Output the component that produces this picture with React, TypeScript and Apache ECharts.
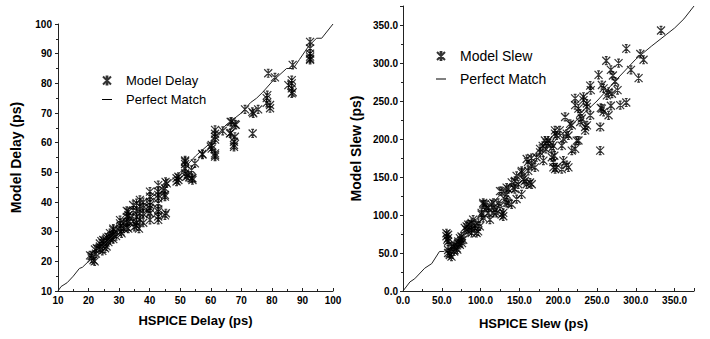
import React, { useEffect, useRef } from "react";
import * as echarts from "echarts";

// ---- Left chart: Model Delay vs HSPICE Delay (ps) ----
const delayModel: [number, number][] = [
  [20.5, 22], [21, 21.8], [21, 21], [21.6, 20.4], [22.1, 24], [22.7, 24.4], [22, 20], [22.4, 22.6],
  [23.7, 26], [23.7, 25], [23.7, 24], [24.8, 27.2], [25.4, 24.4], [25, 26], [24.5, 23.5], [24.2, 26.8],
  [25.9, 28], [26.5, 28.3], [25.9, 27], [25.9, 25], [26.5, 26.5], [27, 29.5], [27, 27.5],
  [27.9, 29], [28.1, 30.6], [28.1, 31], [28.1, 29], [28.1, 27.5], [27.5, 28], [29, 30], [29, 28.5],
  [30.3, 32.8], [30.3, 33.9], [30.5, 32], [30.5, 30], [30.8, 29.4], [30.5, 31], [31.5, 31], [31.5, 33],
  [32.5, 37], [33, 36.7], [33, 35.6], [32.5, 35], [33, 33.4], [32.5, 33], [33, 31], [32.5, 31.5], [33.5, 34.5],
  [34.6, 39], [34.6, 37.2], [35.7, 35], [35.7, 33], [35, 31.6], [35.7, 32], [35.7, 39.6], [35.7, 37], [34.6, 33.5],
  [36.8, 40.7], [36.8, 38.5], [36.8, 36.2], [36.8, 34], [36.5, 31], [37.9, 40], [37.9, 38], [37.9, 36], [37.9, 33],
  [40.1, 43.5], [40.1, 41.8], [40.1, 39], [40.1, 36.2], [40.1, 34], [40.1, 40], [40.1, 38], [39.5, 37],
  [42.8, 45.7], [42.8, 43.5], [42.8, 41.2], [42.8, 39.6], [42.8, 36.8], [42.8, 35.1], [42.8, 34], [42.8, 37.5], [42.8, 42.4],
  [45.3, 36.2], [45, 35.5], [45, 42.4], [45, 44.6], [45.6, 46.3], [45.2, 46.8], [45, 41.8], [44.5, 44],
  [48.8, 48], [48.8, 46.9], [49.4, 48.5], [49.4, 47.4],
  [51.6, 53.6], [51.6, 51.3], [51.6, 49.6], [51.6, 54], [51.6, 52.8], [52, 48.5], [53.7, 50.8], [53.7, 48],
  [54, 48], [54.8, 53], [54, 47.4], [52.5, 49],
  [57.3, 56], [57.2, 56.2], [60.3, 59.2], [60.3, 58], [60, 58.7],
  [61.4, 64.3], [61.4, 63], [61.4, 62], [61.4, 61], [61.4, 56.4], [61.4, 55.3], [61.4, 55.8],
  [63.9, 64], [66.3, 63.1], [66.5, 63.3], [67.9, 62], [67.6, 60.3], [67.6, 58.6], [67.6, 59.2],
  [66.8, 67], [67.9, 66.2], [66.5, 67], [68.2, 66],
  [71.2, 71.2], [73.9, 69.9], [73.6, 70.4], [75.5, 71.2], [73.7, 63.1],
  [78.8, 83.4], [81, 82], [78.5, 76], [78.3, 75], [79.4, 72.7], [79.4, 71.6], [78.3, 73.4],
  [86.8, 86.2], [86.5, 81.1], [86.5, 80], [85.4, 79.4], [86.5, 78.3], [86.5, 76.6], [86.8, 77],
  [92.5, 94], [92.5, 91.8], [92.5, 90], [92.5, 88.3], [92.5, 89], [92.5, 87.9],
];
const delayPerfect: [number, number][] = [
  [10, 10], [11, 11.5], [13, 12.8], [15, 15], [17, 17.6], [18, 18], [20, 20], [25, 25.5], [30, 30.5],
  [40, 41], [45, 45.5], [50, 50], [55, 55.5], [60, 60], [65, 66], [70, 70], [73, 73.5], [75, 75],
  [77, 77], [80, 80.5], [84.8, 85], [87, 85], [89, 88], [92, 92.5], [94.6, 95.2], [96.3, 95.2], [100, 100],
];

// ---- Right chart: Model Slew vs HSPICE Slew (ps) ----
const slewModel: [number, number][] = [
  [56, 76], [56, 72], [57, 67.6], [58.1, 54], [58.1, 50], [60, 49.6], [62.5, 45.2], [60.3, 47.4], [58.1, 74],
  [58.1, 69.6], [58.1, 65.1], [64.6, 58.5], [62.5, 58.5], [69, 56.3], [71, 63], [71.2, 65.1], [73.3, 60.6],
  [73.3, 69.6], [70, 54.4], [75.5, 67], [75.4, 71.7], [77.6, 67.4], [76, 63], [66, 52], [67, 61],
  [81.8, 80.6], [82, 85], [84, 78.6], [84, 87.3], [86.1, 87.3], [88.4, 89.5], [88.2, 80.6], [88.4, 76.3],
  [79.6, 83], [92.6, 82.9], [92.6, 86], [90.4, 94], [94.8, 76.3], [96.8, 78.4], [97, 89.5], [99, 85],
  [101.3, 100.6], [101.3, 102.8], [103.4, 96.2], [103.4, 116], [103.4, 113.9], [105.6, 113.9], [107.7, 109.5],
  [109.8, 102.8], [109.8, 109.5], [112, 94], [114.2, 113.9], [116.3, 102.8], [116.4, 116], [118.5, 107.2],
  [120.6, 102.8], [122.7, 116], [125, 111.6], [127, 100.6], [129.2, 98.3], [129.2, 102.8],
  [125, 131.5], [127.2, 131.5], [131.4, 120.5], [133.5, 136], [133.6, 127], [133.6, 116], [135.6, 116],
  [135.8, 134], [140, 113.9], [140.1, 143], [142, 136], [144.2, 134], [144.3, 144.8], [146.4, 151.5],
  [146.4, 121], [148.5, 140.4], [152.8, 127.2], [152.8, 156], [153, 158], [155, 147], [157, 144.8],
  [159.4, 140.4], [161.4, 158], [163.7, 142.7], [165.9, 140.4],
  [159.4, 173.7], [161.1, 170], [165.5, 175], [165.9, 164.8], [170, 162.6], [172, 176], [176.6, 187],
  [176.6, 182.5], [180, 191], [180.9, 171.5], [182.9, 198], [184.1, 187], [185.2, 194.5], [187.2, 198],
  [189.5, 194.5], [191.7, 176], [191.7, 187.9], [193.8, 162.6], [193.8, 191.3], [193.8, 169.8], [195, 178],
  [196, 160.4], [198, 162.6], [198, 204.6], [195.8, 211.3], [195.8, 207], [202, 211.3], [204.6, 191.3],
  [204.6, 160.4], [206.7, 171.5], [206.7, 200.2], [208.9, 229], [211, 207], [211, 165.7], [213.2, 162.6],
  [213.2, 204.6], [215.3, 220], [217.5, 218], [217.5, 184.7], [221.8, 187], [221.8, 244.5], [221.8, 253.4],
  [223.9, 197.8], [226, 240], [226.1, 198], [228.3, 233.4], [228.3, 222.4], [230.4, 227], [232.6, 255.6],
  [232.6, 251.1], [234.7, 215.8], [234.7, 211.3], [236.9, 246.7], [236.9, 242.3], [237, 218], [241.2, 231.2],
  [241.2, 270.2], [242, 264.4], [252, 284.4], [254.1, 215.8], [254.1, 184.7], [254.9, 241], [256.3, 271],
  [256.3, 240], [258.5, 266.7], [258.5, 235.6], [261.9, 303], [262.7, 257.4], [264.9, 262], [264.9, 231.2],
  [267.9, 291], [267.9, 243.7], [269.2, 259.6], [270.5, 283.5], [273.4, 275.6], [276.5, 264.4], [277.8, 299.9],
  [279.9, 244.5], [287.7, 248], [287.7, 318.9], [293.8, 291], [303.6, 280], [305.8, 311.9], [310, 304.3],
  [332.5, 342.8],
];
const slewPerfect: [number, number][] = [
  [0, 0], [9, 12], [15, 16], [28, 30], [37, 36], [47, 52], [53, 52], [75, 75], [100, 100], [125, 126],
  [150, 150], [175, 176], [200, 202], [225, 226], [250, 250], [275, 278], [300, 305], [320, 322],
  [340, 338], [350, 346], [362, 358], [375, 375],
];

const FONT = "Arial, 'Liberation Sans', sans-serif";
const STAR = "path://M0,0L8,8M8,0L0,8M4,0L4,8M2.6,0L5.4,0M2.6,8L5.4,8";
const LINE_ICON = "path://M0,0M28,8M9,3.5L19,3.5L19,4.5L9,4.5Z";

function axisCommon(fmt: (v: number) => string, inside: boolean) {
  return {
    type: "value" as const,
    axisLine: { show: true, onZero: false, lineStyle: { color: "#222", width: 1 } },
    axisTick: { show: true, inside, length: 3, lineStyle: { color: "#222" } },
    minorTick: { show: true, splitNumber: 2, length: 2, lineStyle: { color: "#222" } },
    splitLine: { show: false },
    axisLabel: {
      color: "#000",
      fontFamily: FONT,
      fontWeight: "bold" as const,
      fontSize: 10,
      formatter: fmt,
    },
    nameLocation: "middle" as const,
    nameTextStyle: { color: "#000", fontFamily: FONT, fontWeight: "bold" as const, fontSize: 13 },
  };
}

export default function App() {
  const ref = useRef<HTMLDivElement>(null);
  useEffect(() => {
    if (!ref.current) return;
    const chart = echarts.init(ref.current, undefined, { renderer: "svg" });
    const intFmt = (v: number) => String(v);
    const decFmt = (v: number) => v.toFixed(1);
    const sym = { color: "#000", borderColor: "#000", borderWidth: 1.2 };
    chart.setOption({
      animation: false,
      backgroundColor: "#fff",
      grid: [
        { left: 58, top: 24, width: 275, height: 267 },
        { left: 403, top: 6, width: 291, height: 285 },
      ],
      xAxis: [
        {
          ...axisCommon(intFmt, true), gridIndex: 0, min: 10, max: 100, interval: 10,
          name: "HSPICE Delay (ps)", nameGap: 23,
          axisLabel: { ...axisCommon(intFmt, true).axisLabel, margin: 4 },
        },
        {
          ...axisCommon(decFmt, true), gridIndex: 1, min: 0, max: 375, interval: 50,
          name: "HSPICE Slew (ps)", nameGap: 26,
          nameTextStyle: { ...axisCommon(decFmt, true).nameTextStyle, padding: [0, 30, 0, 0] },
          axisLabel: { ...axisCommon(decFmt, true).axisLabel, margin: 4, showMaxLabel: false },
        },
      ],
      yAxis: [
        {
          ...axisCommon(intFmt, false), gridIndex: 0, min: 10, max: 100, interval: 10,
          name: "Model Delay (ps)", nameGap: 35,
          nameTextStyle: { ...axisCommon(intFmt, false).nameTextStyle, fontSize: 14 },
          axisLabel: { ...axisCommon(intFmt, false).axisLabel, margin: 6 },
        },
        {
          ...axisCommon(decFmt, false), gridIndex: 1, min: 0, max: 375, interval: 50,
          name: "Model Slew (ps)", nameGap: 40,
          nameTextStyle: { ...axisCommon(decFmt, false).nameTextStyle, fontSize: 14 },
          axisLabel: { ...axisCommon(decFmt, false).axisLabel, margin: 5, showMaxLabel: false },
        },
      ],
      legend: [
        {
          orient: "vertical", left: 88, top: 69, itemWidth: 28, itemHeight: 8, itemGap: 6,
          textStyle: { color: "#000", fontFamily: FONT, fontSize: 13 },
          data: [{ name: "Model Delay" }, { name: "Perfect Match", icon: LINE_ICON }],
        },
        {
          orient: "vertical", left: 422, top: 44, itemWidth: 28, itemHeight: 8, itemGap: 9,
          textStyle: { color: "#000", fontFamily: FONT, fontSize: 14 },
          data: [{ name: "Model Slew" }, { name: "Perfect Match", icon: LINE_ICON }],
        },
      ],
      series: [
        {
          name: "Model Delay", type: "scatter", xAxisIndex: 0, yAxisIndex: 0,
          symbol: STAR, symbolSize: 8, itemStyle: sym, data: delayModel,
        },
        {
          name: "Perfect Match", type: "line", xAxisIndex: 0, yAxisIndex: 0, symbol: "none",
          color: "#000", lineStyle: { color: "#222", width: 1 }, itemStyle: { color: "#000" },
          data: delayPerfect, z: 3,
        },
        {
          name: "Model Slew", type: "scatter", xAxisIndex: 1, yAxisIndex: 1,
          symbol: STAR, symbolSize: 8, itemStyle: sym, data: slewModel,
        },
        {
          name: "Perfect Match", type: "line", xAxisIndex: 1, yAxisIndex: 1, symbol: "none",
          color: "#000", lineStyle: { color: "#222", width: 1 }, itemStyle: { color: "#000" },
          data: slewPerfect, z: 3,
        },
      ],
    });
    return () => chart.dispose();
  }, []);
  return (
    <div
      ref={ref}
      style={{ position: "fixed", left: 0, top: 0, width: 710, height: 339, background: "#fff" }}
    />
  );
}
